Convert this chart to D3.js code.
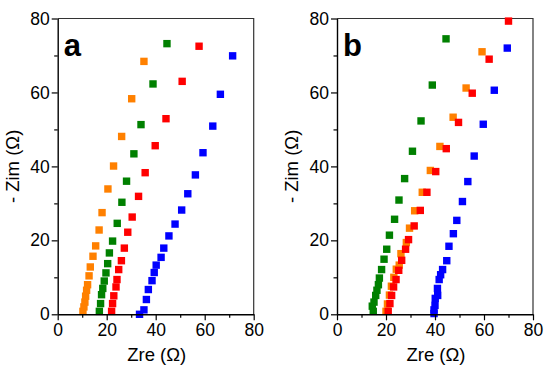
<!DOCTYPE html>
<html>
<head>
<meta charset="utf-8">
<script src="https://cdn.jsdelivr.net/npm/d3@7"></script>
<style>
  body { margin: 0; background: #fff; }
  svg { font-family: "Liberation Sans", Arial, sans-serif; }
</style>
</head>
<body>
<div id="chart"></div>
<script>
// panel a, [Zre, -Zim]
const aOrange = [[10.3,0.8],[10.7,2.0],[11.1,3.3],[11.4,4.9],[11.8,6.5],[12.2,8.0],[12.8,10.4],[13.3,12.8],[14.4,15.7],[15.5,18.5],
  [16.9,22.8],[18.1,27.5],[20.5,33.9],[22.8,40.1],[26.1,48.1],[30.2,58.3],[35.2,68.4]];
const aGreen = [[17.0,0.8],[17.5,2.9],[17.9,5.3],[18.4,7.0],[19.0,9.0],[19.7,11.2],[20.4,13.7],[21.1,16.6],[22.4,19.8],
  [24.3,24.6],[26.2,30.3],[28.1,36.0],[31.1,43.4],[34.0,51.3],[38.9,62.3],[44.6,73.2]];
const aRed = [[22.0,0.8],[22.4,2.9],[22.9,5.0],[23.8,7.4],[24.2,9.4],[24.9,12.1],[26.0,14.5],[27.2,17.9],[28.6,22.2],
  [30.4,26.3],[33.0,31.9],[35.7,38.3],[39.8,45.6],[44.2,52.9],[50.8,63.0],[57.7,72.5]];
const aBlue = [[33.4,0],[35.2,1.2],[36.2,4.0],[37.0,6.7],[38.5,9.1],[39.4,11.3],[40.2,13.3],[42.2,15.4],[43.3,17.9],[45.4,21.2],
  [47.9,24.4],[50.6,28.2],[53.1,32.6],[56.2,37.7],[59.3,43.7],[63.3,50.9],[66.4,59.5],[71.4,69.9]];

// panel b
const bOrange = [[20.0,0.8],[20.6,2.8],[21.4,5.2],[22.2,7.6],[23.2,10.0],[24.2,12.2],[25.4,13.3],[26.1,16.4],[28.3,19.4],[29.6,23.3],
  [31.7,28.0],[34.8,33.0],[38.1,38.9],[42.0,45.4],[47.4,53.3],[52.7,61.2],[59.2,71.0]];
const bGreen = [[14.8,0.8],[14.4,2.2],[15.1,3.3],[15.8,5.1],[16.3,6.5],[16.9,8.0],[17.3,9.8],[18.2,12.1],[19.2,14.9],[20.3,17.6],
  [21.4,21.4],[23.5,25.7],[25.3,30.9],[27.6,36.7],[30.8,44.1],[34.3,52.3],[38.9,62.0],[44.5,74.5]];
const bRed = [[20.9,0.8],[21.6,2.9],[22.3,5.1],[23.1,7.4],[24.1,9.4],[25.2,11.9],[26.4,14.6],[28.0,17.6],[29.2,20.2],[31.5,23.9],
  [34.0,28.1],[36.7,33.0],[40.3,38.6],[44.6,44.8],[49.6,51.9],[55.2,59.8],[62.1,69.0],[70.0,79.3]];
const bBlue = [[39.6,0.2],[39.6,1.2],[40.0,2.4],[40.1,4.3],[41.1,5.1],[41.0,7.0],[41.7,9.4],[42.3,10.7],[43.1,12.1],[44.8,14.5],
  [45.7,18.4],[47.5,21.8],[48.9,25.4],[51.2,30.5],[53.4,35.9],[56.0,42.8],[59.7,51.4],[64.2,60.6],[69.5,72.0]];

const majorTicks = [0, 20, 40, 60, 80];
const minorTicks = [10, 30, 50, 70];

const colors = { orange: "#ff8000", green: "#008000", red: "#ff0000", blue: "#0000ff" };

const panels = [
  { label: "a", left: 57.7, series: [["orange", aOrange], ["green", aGreen], ["red", aRed], ["blue", aBlue]] },
  { label: "b", left: 337, series: [["green", bGreen], ["orange", bOrange], ["red", bRed], ["blue", bBlue]] }
];

const W = 550, H = 371;
const plotTop = 18.5, plotBottom = 314.3, pw = 196;

const svg = d3.select("#chart").append("svg")
  .attr("width", W)
  .attr("height", H);

panels.forEach(p => {
  const x = d3.scaleLinear().domain([0, 80]).range([p.left, p.left + pw]);
  const y = d3.scaleLinear().domain([0, 80]).range([plotBottom, plotTop]);

  const g = svg.append("g");

  // frame (top & right)
  g.append("path")
    .attr("d", `M${x(0)},${y(80)}H${x(80)}V${y(0)}`)
    .attr("fill", "none")
    .attr("stroke", "#333")
    .attr("stroke-width", 1.2);

  // points
  p.series.forEach(([c, pts]) => {
    g.append("g").selectAll("rect")
      .data(pts)
      .enter()
      .append("rect")
      .attr("x", d => x(d[0]) - 3.7)
      .attr("y", d => y(d[1]) - 3.7)
      .attr("width", 7.4)
      .attr("height", 7.4)
      .attr("fill", colors[c]);
  });

  // axes
  const xAxis = g.append("g").attr("transform", `translate(0,${plotBottom})`);
  xAxis.call(d3.axisBottom(x).tickValues(majorTicks).tickSize(6).tickPadding(3).tickSizeOuter(0));
  xAxis.append("g").call(d3.axisBottom(x).tickValues(minorTicks).tickSize(3.5).tickFormat("").tickSizeOuter(0))
    .select(".domain").remove();

  const yAxis = g.append("g").attr("transform", `translate(${x(0)},0)`);
  yAxis.call(d3.axisLeft(y).tickValues(majorTicks).tickSize(6).tickPadding(2).tickSizeOuter(0));
  yAxis.append("g").call(d3.axisLeft(y).tickValues(minorTicks).tickSize(3.5).tickFormat("").tickSizeOuter(0))
    .select(".domain").remove();

  g.selectAll(".domain").attr("stroke", "#000").attr("stroke-width", 1.4);
  g.selectAll(".tick line").attr("stroke", "#000").attr("stroke-width", 1.2);
  g.selectAll(".tick text")
    .attr("font-family", "Liberation Sans, Arial, sans-serif")
    .attr("font-size", 17.5)
    .attr("fill", "#000");

  // panel letter
  g.append("text")
    .attr("x", x(0) + 6)
    .attr("y", 56)
    .attr("font-size", 31)
    .attr("font-weight", "bold")
    .text(p.label);

  // axis titles
  g.append("text")
    .attr("x", x(40) + 1)
    .attr("y", 361)
    .attr("text-anchor", "middle")
    .attr("font-size", 18.5)
    .text("Zre (Ω)");

  g.append("text")
    .attr("transform", `translate(${x(0) - 39},${y(40)}) rotate(-90)`)
    .attr("text-anchor", "middle")
    .attr("font-size", 18.5)
    .text("- Zim (Ω)");
});
</script>
</body>
</html>
